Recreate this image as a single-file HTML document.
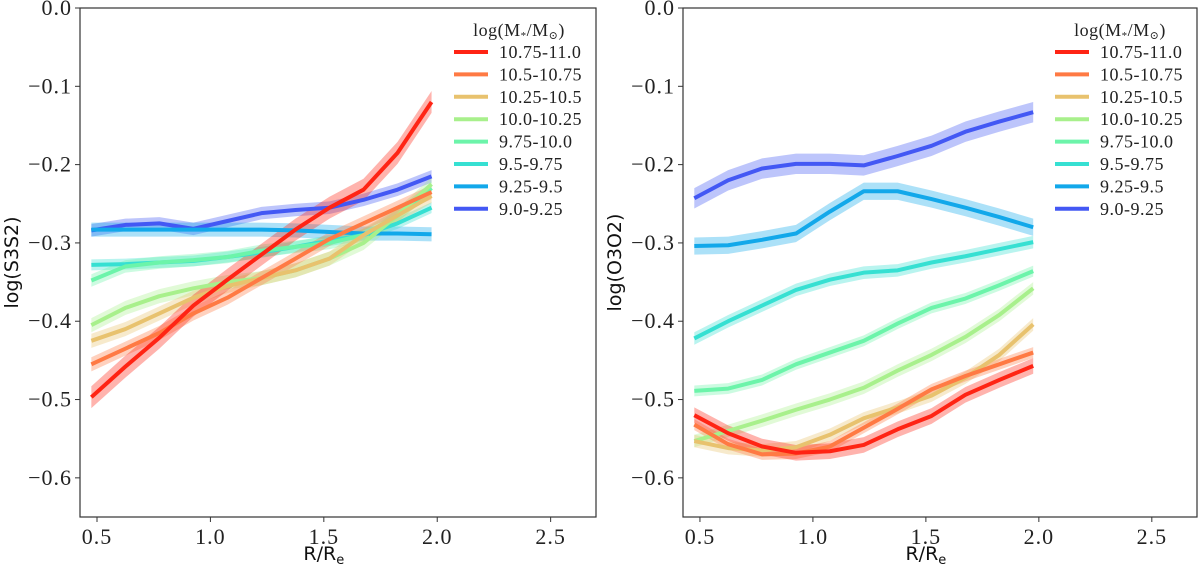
<!DOCTYPE html>
<html><head><meta charset="utf-8"><style>
body{margin:0;background:#fff;}
svg{display:block;}
.tick{font-family:"Liberation Serif","DejaVu Serif",serif;font-size:22px;letter-spacing:1px;fill:#222;}
.lab{font-family:"DejaVu Sans","Liberation Sans",sans-serif;font-size:19px;fill:#111;}
.leg{font-family:"Liberation Serif","DejaVu Serif",serif;font-size:18px;letter-spacing:0.5px;fill:#222;}
</style></head><body>
<svg id="c" width="1200" height="568" viewBox="0 0 1200 568"></svg>
<script>
const xs=[0.475,0.625,0.775,0.925,1.075,1.225,1.375,1.525,1.675,1.825,1.975];
const labels=["10.75-11.0","10.5-10.75","10.25-10.5","10.0-10.25","9.75-10.0","9.5-9.75","9.25-9.5","9.0-9.25"];
const colors=["#ff2414","#ff7a44","#e8c26e","#a8f08c","#6cf4aa","#36e0d2","#12a8ea","#4358f4"];
const s3s2=[
[-0.497,-0.458,-0.421,-0.38,-0.347,-0.315,-0.283,-0.255,-0.232,-0.185,-0.12],
[-0.455,-0.435,-0.415,-0.39,-0.37,-0.345,-0.32,-0.295,-0.275,-0.255,-0.235],
[-0.425,-0.41,-0.39,-0.37,-0.355,-0.345,-0.335,-0.32,-0.29,-0.265,-0.24],
[-0.405,-0.383,-0.368,-0.358,-0.35,-0.345,-0.335,-0.32,-0.3,-0.265,-0.225],
[-0.348,-0.33,-0.325,-0.322,-0.318,-0.31,-0.305,-0.30,-0.29,-0.265,-0.23],
[-0.328,-0.327,-0.325,-0.323,-0.318,-0.312,-0.305,-0.297,-0.29,-0.275,-0.255],
[-0.283,-0.283,-0.283,-0.283,-0.283,-0.283,-0.284,-0.286,-0.288,-0.288,-0.289],
[-0.284,-0.277,-0.275,-0.282,-0.272,-0.262,-0.258,-0.255,-0.245,-0.232,-0.215]];
const s3s2Err=[0.014,0.009,0.009,0.009,0.008,0.007,0.009,0.008];
const o3o2=[
[-0.52,-0.543,-0.56,-0.568,-0.566,-0.558,-0.538,-0.521,-0.494,-0.475,-0.457],
[-0.532,-0.557,-0.57,-0.569,-0.56,-0.536,-0.512,-0.487,-0.47,-0.455,-0.44],
[-0.553,-0.562,-0.565,-0.561,-0.545,-0.524,-0.51,-0.495,-0.472,-0.443,-0.404],
[-0.553,-0.54,-0.527,-0.513,-0.5,-0.485,-0.463,-0.443,-0.42,-0.392,-0.358],
[-0.489,-0.486,-0.475,-0.455,-0.44,-0.425,-0.403,-0.383,-0.371,-0.354,-0.336],
[-0.422,-0.4,-0.38,-0.36,-0.347,-0.338,-0.335,-0.325,-0.317,-0.308,-0.299],
[-0.304,-0.303,-0.296,-0.288,-0.26,-0.234,-0.234,-0.244,-0.255,-0.267,-0.28],
[-0.243,-0.22,-0.205,-0.199,-0.199,-0.201,-0.189,-0.176,-0.158,-0.145,-0.133]];
const o3o2Err=[0.01,0.007,0.008,0.008,0.007,0.008,0.011,0.013];
const xTicks=[0.5,1.0,1.5,2.0,2.5];
const xTickLabels=["0.5","1.0","1.5","2.0","2.5"];
const yTicks=[0,-0.1,-0.2,-0.3,-0.4,-0.5,-0.6];
const yTickLabels=["0.0","\u22120.1","\u22120.2","\u22120.3","\u22120.4","\u22120.5","\u22120.6"];

const svg=document.getElementById('c');
const NS="http://www.w3.org/2000/svg";
function mk(tag,attrs,parent){const e=document.createElementNS(NS,tag);for(const k in attrs)e.setAttribute(k,attrs[k]);parent.appendChild(e);return e;}

function panel(left,right,data,err,ylabel,name){
  const top=8,bottom=517,xmin=0.425,xmax=2.70,ymin=-0.65,ymax=0;
  const X=v=>left+(v-xmin)/(xmax-xmin)*(right-left);
  const Y=v=>top+(ymax-v)/(ymax-ymin)*(bottom-top);
  const g=mk('g',{},svg);
  
  
  for(let i=data.length-1;i>=0;i--){
    const up=xs.map((x,j)=>X(x)+','+Y(data[i][j]+err[i]));
    const dn=xs.map((x,j)=>X(x)+','+Y(data[i][j]-err[i])).reverse();
    const b=mk('polygon',{points:up.concat(dn).join(' '),fill:colors[i],'fill-opacity':0.35},g);
    
    
  }
  for(let i=data.length-1;i>=0;i--){
    const l=mk('polyline',{points:xs.map((x,j)=>X(x)+','+Y(data[i][j])).join(' '),fill:'none',stroke:colors[i],'stroke-width':4,'stroke-linejoin':'round'},g);
    
    
  }
  const fr=mk('rect',{x:left,y:top,width:right-left,height:bottom-top,fill:'none',stroke:'#333','stroke-width':1.2},g);
  
  
  xTicks.forEach((t,i)=>{
    mk('line',{x1:X(t),x2:X(t),y1:bottom,y2:bottom+5,stroke:'#333'},g);
    const tx=mk('text',{x:X(t),y:bottom+27,'text-anchor':'middle',class:'tick'},g);
    tx.textContent=xTickLabels[i];
    
    
  });
  yTicks.forEach((t,i)=>{
    mk('line',{x1:left-5,x2:left,y1:Y(t),y2:Y(t),stroke:'#333'},g);
    const tx=mk('text',{x:left-8,y:Y(t)+7,'text-anchor':'end',class:'tick'},g);
    tx.textContent=yTickLabels[i];
    
    
  });
  const xl=mk('text',{x:(X(1.5)),y:560,'text-anchor':'middle',class:'lab'},g);
  xl.innerHTML='R/R<tspan font-size="13" dy="4">e</tspan>';
  
  
  const yl=mk('text',{x:0,y:0,'text-anchor':'middle',class:'lab',transform:`translate(${left-62},${(top+bottom)/2}) rotate(-90)`},g);
  yl.textContent=ylabel;
  
  
  const lg=mk('g',{},g);
  
  
  const tt=mk('text',{x:right-77,y:36,'text-anchor':'middle',class:'leg'},lg);
  tt.innerHTML='log(M<tspan font-size="11" dy="3">*</tspan><tspan dy="-3">/M</tspan><tspan font-size="11" dy="3">\u2299</tspan><tspan dy="-3">)</tspan>';
  labels.forEach((lab,i)=>{
    const y=52+i*22.4;
    const e=mk('g',{},lg);
    
    
    mk('line',{x1:right-142,x2:right-108,y1:y,y2:y,stroke:colors[i],'stroke-width':4},e);
    const t=mk('text',{x:right-97,y:y+6,class:'leg'},e);
    t.textContent=lab;
  });
}
panel(80,596,s3s2,s3s2Err,'log(S3S2)','s3s2');
panel(683,1197,o3o2,o3o2Err,'log(O3O2)','o3o2');
</script>
</body></html>
